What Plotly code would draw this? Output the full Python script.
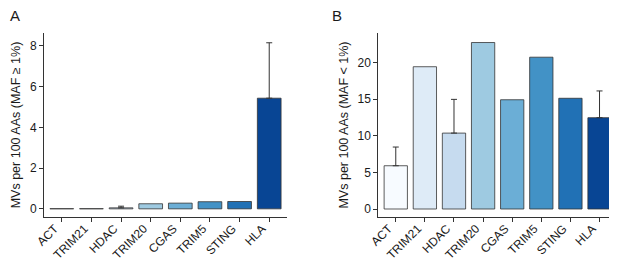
import plotly.graph_objects as go

categories = ["ACT", "TRIM21", "HDAC", "TRIM20", "CGAS", "TRIM5", "STING", "HLA"]
colors = ["#F7FBFF", "#DEEBF7", "#C6DBEF", "#9ECAE1", "#6BAED6", "#4292C6", "#2171B5", "#084594"]

# Panel A: MAF >= 1%
a_values = [0.01, 0.01, 0.05, 0.25, 0.28, 0.35, 0.36, 5.43]
a_err_upper = [None, None, 0.08, None, None, None, None, 2.72]

# Panel B: MAF < 1%
b_values = [5.9, 19.4, 10.35, 22.7, 14.9, 20.7, 15.1, 12.45]
b_err_upper = [2.55, None, 4.6, None, None, None, None, 3.65]

a_yticks = [0, 2, 4, 6, 8]
b_yticks = [0, 5, 10, 15, 20]

FONT = "Liberation Sans, Arial, sans-serif"
DARK = "#333333"
TXT = "#1a1a1a"

# The page body has an 8px default margin, so the figure is sized to the
# visible area that remains.
W, H = 609, 258

fig = go.Figure()

def add_bars(vals, errs, xa, ya):
    fig.add_trace(go.Bar(
        x=categories, y=vals, xaxis=xa, yaxis=ya,
        marker=dict(color=colors, line=dict(color=DARK, width=0.8)),
        width=0.8, showlegend=False, hoverinfo="x+y",
    ))
    idx = [i for i, e in enumerate(errs) if e is not None]
    fig.add_trace(go.Scatter(
        x=[categories[i] for i in idx], y=[vals[i] for i in idx],
        xaxis=xa, yaxis=ya, mode="markers",
        marker=dict(size=1, color="rgba(0,0,0,0)"),
        error_y=dict(type="data", symmetric=False, array=[errs[i] for i in idx],
                     arrayminus=[0] * len(idx), color=DARK, thickness=1, width=3),
        showlegend=False, hoverinfo="skip",
    ))

add_bars(a_values, a_err_upper, "x", "y")
add_bars(b_values, b_err_upper, "x2", "y2")

xcommon = dict(
    type="category", showline=True, linecolor=DARK, linewidth=1,
    ticks="outside", ticklen=4, tickcolor=DARK, tickangle=-45,
    tickfont=dict(family=FONT, size=12, color=TXT),
    ticklabelstandoff=-5, ticklabelshift=-7,
    showgrid=False, zeroline=False, automargin=False,
)
ycommon = dict(
    showline=True, linecolor=DARK, linewidth=1,
    ticks="outside", ticklen=4, tickcolor=DARK,
    tickfont=dict(family=FONT, size=12, color=TXT),
    showgrid=False, zeroline=False, automargin=False,
)

ydom = [1 - 209 / H, 1 - 25 / H]

fig.update_layout(
    width=W, height=H,
    margin=dict(l=0, r=0, t=0, b=0),
    paper_bgcolor="white", plot_bgcolor="white",
    bargap=0.2,
    xaxis=dict(**xcommon, domain=[36 / W, 279 / W], range=[-0.6, 7.6], anchor="y"),
    yaxis=dict(**ycommon, domain=ydom, range=[-0.4, 8.63],
               tickvals=a_yticks, anchor="x",
               title=dict(text="MVs per 100 AAs (MAF ≥ 1%)",
                          font=dict(family=FONT, size=12.5, color=TXT), standoff=6)),
    xaxis2=dict(**xcommon, domain=[370.3 / W, 1.0], range=[-0.6, 7.6], anchor="y2"),
    yaxis2=dict(**ycommon, domain=ydom, range=[-1.09, 24.0],
                tickvals=b_yticks, anchor="x2",
                title=dict(text="MVs per 100 AAs (MAF < 1%)",
                           font=dict(family=FONT, size=12.5, color=TXT), standoff=6)),
    annotations=[
        dict(text="A", x=0, y=1 + 3 / H, xref="paper", yref="paper",
             xanchor="left", yanchor="top", showarrow=False,
             font=dict(family=FONT, size=15, color=TXT)),
        dict(text="B", x=322 / W, y=1 + 3 / H, xref="paper", yref="paper",
             xanchor="left", yanchor="top", showarrow=False,
             font=dict(family=FONT, size=15, color=TXT)),
    ],
)

fig.write_html("out.html")
